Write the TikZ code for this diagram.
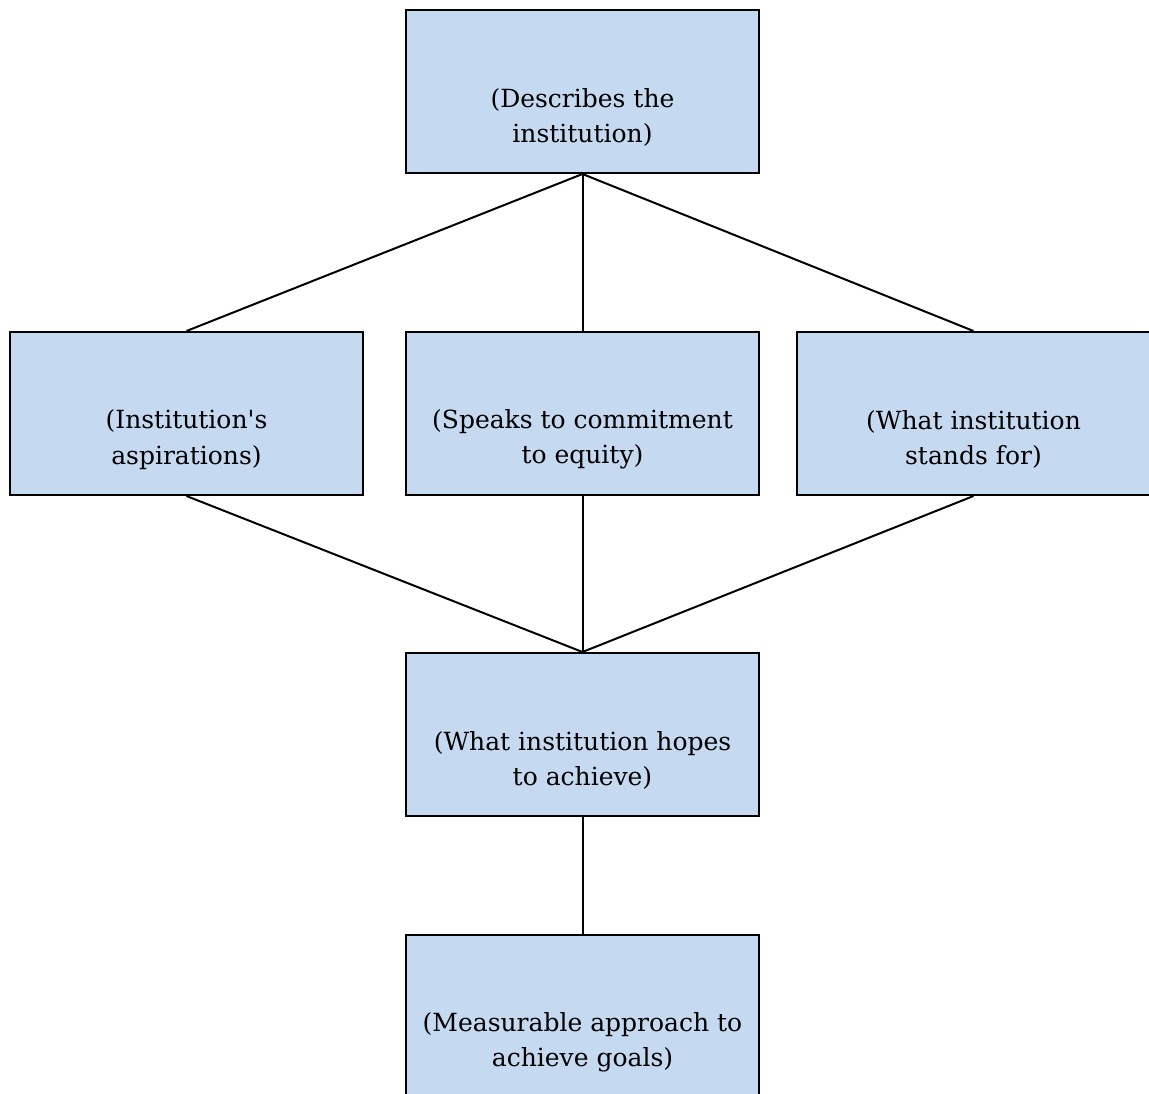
\documentclass[tikz,border=0pt]{standalone}
\usepackage{fontspec}
\setmainfont{DejaVu Serif}
\definecolor{boxfill}{RGB}{197,217,241}
\begin{document}
\begin{tikzpicture}[x=1pt,y=-1pt,
  box/.style={draw=black,fill=boxfill,line width=2pt,minimum width=353pt,minimum height=163pt,inner sep=0pt,anchor=north west},
  lbl/.style={align=center,font=\fontsize{25}{35.5}\selectfont,inner sep=0pt},
  link/.style={line width=2pt}]
\useasboundingbox (0,0) rectangle (1149,1093);
\node[box] (b1) at (405,9) {};
\node[box] (b2) at (9,331) {};
\node[box] (b3) at (405,331) {};
\node[box] (b4) at (796,331) {};
\node[box] (b5) at (405,652) {};
\node[box] (b6) at (405,934) {};
\node[lbl] (t1) at ([yshift=-26pt]b1.center) {(Describes the\\institution)};
\node[lbl] (t2) at ([yshift=-26pt]b2.center) {(Institution\textquotesingle s\\aspirations)};
\node[lbl] (t3) at ([yshift=-26pt]b3.center) {(Speaks to commitment\\to equity)};
\node[lbl] (t4) at ([yshift=-26pt]b4.center) {(What institution\\stands for)};
\node[lbl] (t5) at ([yshift=-26pt]b5.center) {(What institution hopes\\to achieve)};
\node[lbl] (t6) at ([yshift=-26pt]b6.center) {(Measurable approach to\\achieve goals)};
\draw[link] (b1.south) -- (b2.north);
\draw[link] (b1.south) -- (b3.north);
\draw[link] (b1.south) -- (b4.north);
\draw[link] (b2.south) -- (b5.north);
\draw[link] (b3.south) -- (b5.north);
\draw[link] (b4.south) -- (b5.north);
\draw[link] (b5.south) -- (b6.north);
\end{tikzpicture}
\end{document}
